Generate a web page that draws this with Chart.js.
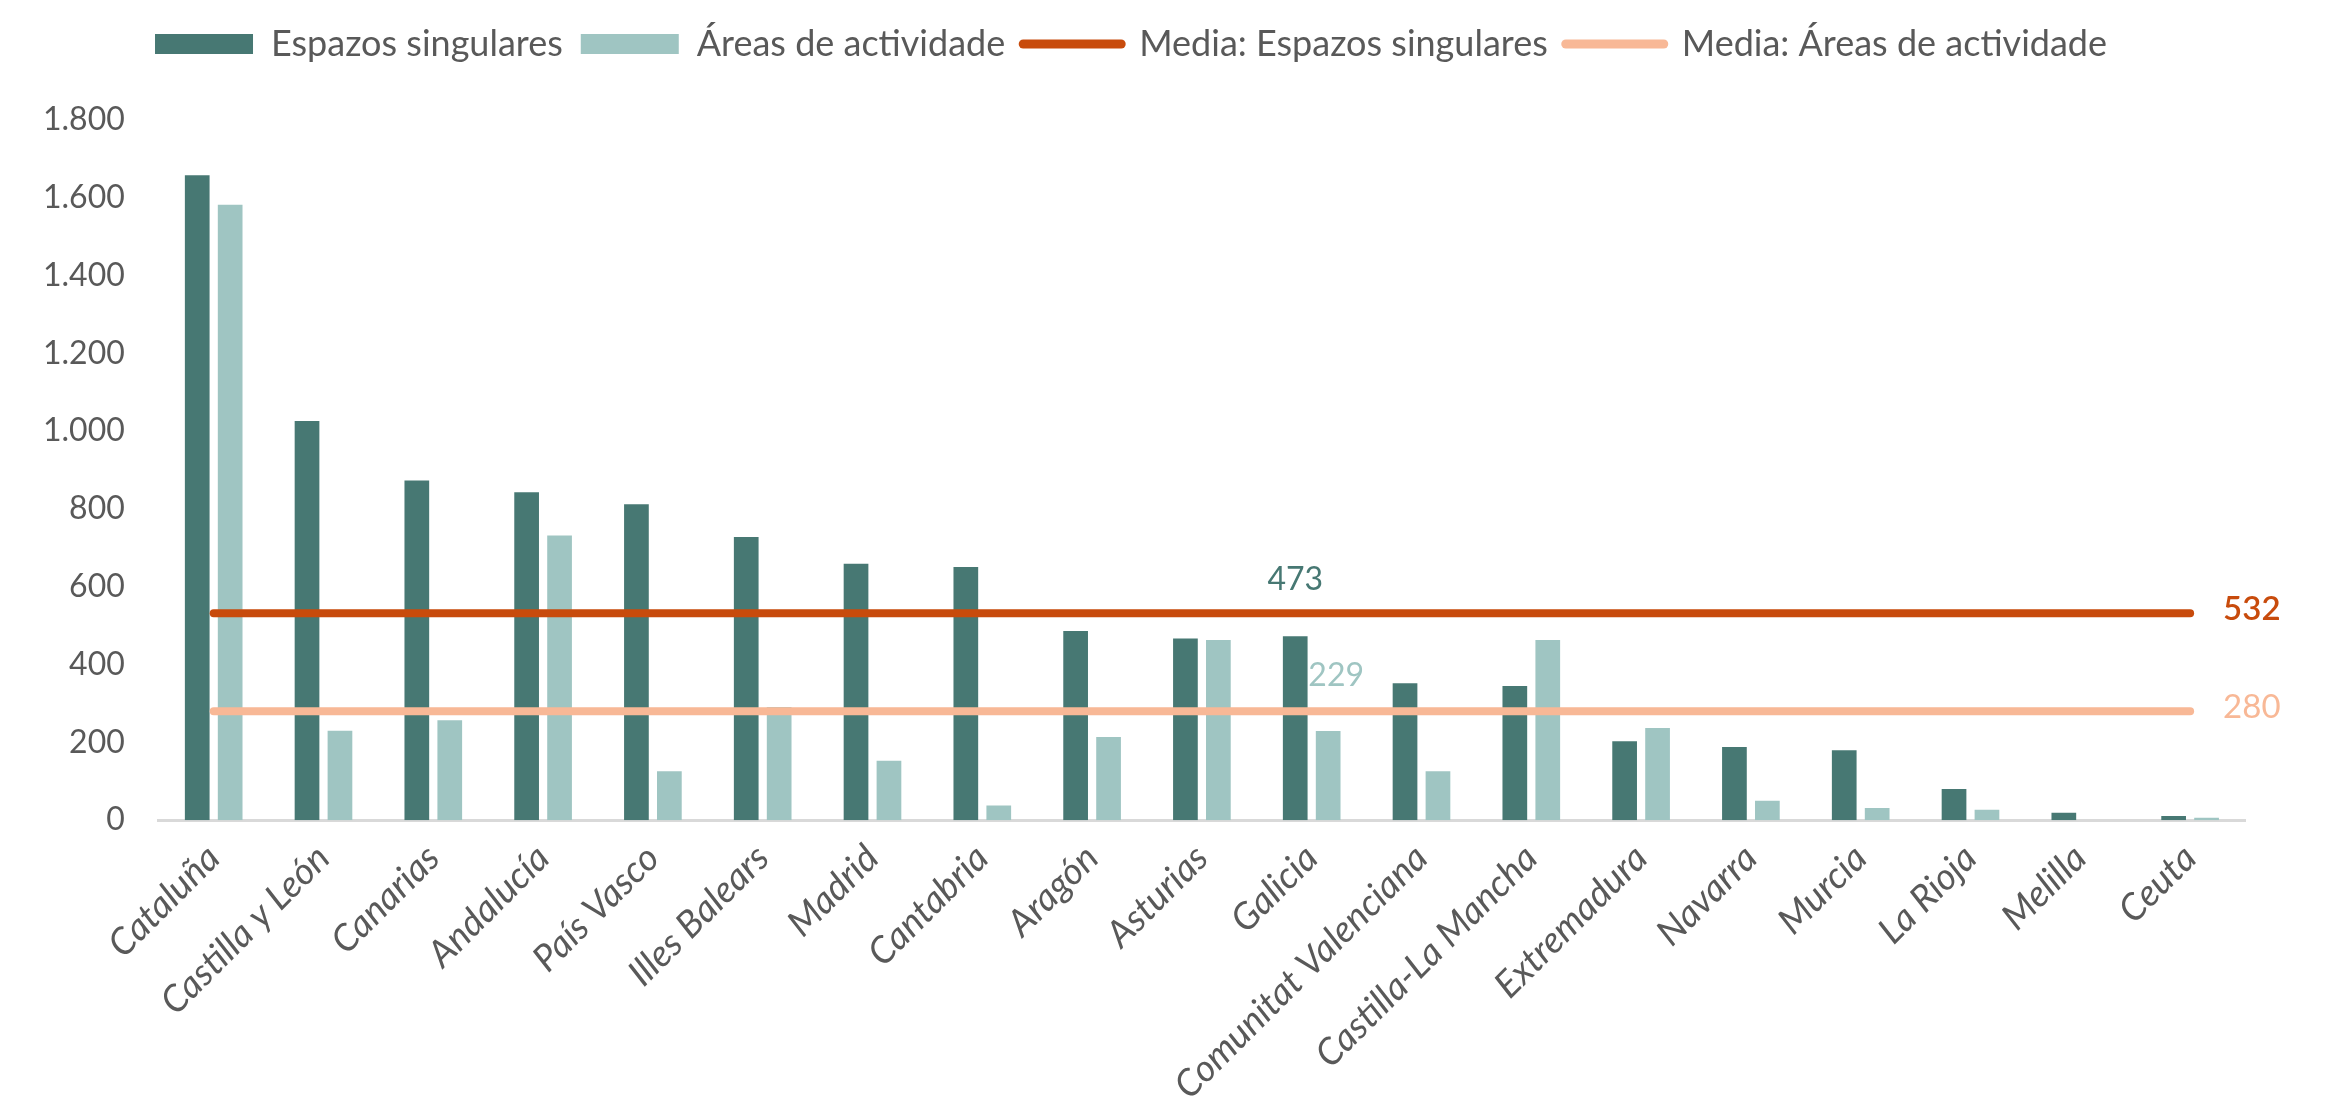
<!DOCTYPE html>
<html>
<head>
<meta charset="utf-8">
<script src="https://cdn.jsdelivr.net/npm/chart.js@4/dist/chart.umd.min.js"></script>
<style>
  html, body { margin: 0; padding: 0; background: #fff; }
  #wrap { width: 2339px; height: 1118px; }
</style>
</head>
<body>
<div id="wrap"><canvas id="grafico"></canvas></div>
<script>
var rexions = ['Cataluña', 'Castilla y León', 'Canarias', 'Andalucía', 'País Vasco', 'Illes Balears',
  'Madrid', 'Cantabria', 'Aragón', 'Asturias', 'Galicia', 'Comunitat Valenciana', 'Castilla-La Mancha',
  'Extremadura', 'Navarra', 'Murcia', 'La Rioja', 'Melilla', 'Ceuta'];
var espazos = [1658, 1026, 873, 843, 812, 728, 659, 651, 486, 467, 473, 352, 345, 203, 188, 180, 80, 19, 11];
var areas = [1582, 230, 257, 732, 126, 291, 153, 38, 214, 463, 229, 126, 463, 237, 50, 31, 27, 0, 6];
var media_espazos = 532;
var media_areas = 280;
var rexion_destacada = 'Galicia';
var y_ticks = [0, 200, 400, 600, 800, 1000, 1200, 1400, 1600, 1800];

var clr_espazos = '#477873';
var clr_areas = '#9fc5c2';
var clr_media_espazos = '#c84b0c';
var clr_media_areas = '#f8b896';
var clr_text = '#595959';
var font_name = 'Lato';

function miles(v) {
  var s = String(v);
  return s.length > 3 ? s.slice(0, s.length - 3) + '.' + s.slice(s.length - 3) : s;
}

// deixa máis aire entre a lenda e a zona do gráfico
var espazo_lenda = {
  id: 'espazo_lenda',
  beforeInit: function(chart) {
    var fit_orig = chart.legend.fit;
    chart.legend.fit = function() {
      fit_orig.bind(chart.legend)();
      this.height += 48;
    };
  }
};

// etiquetas: valores de Galicia sobre as barras e medias ao final das liñas
var etiquetas = {
  id: 'etiquetas',
  afterDatasetsDraw: function(chart) {
    var ctx = chart.ctx;
    var idx = rexions.indexOf(rexion_destacada);
    ctx.save();
    ctx.textAlign = 'center';
    ctx.textBaseline = 'middle';
    ctx.font = '32px ' + font_name;

    var b0 = chart.getDatasetMeta(0).data[idx];
    ctx.fillStyle = clr_espazos;
    ctx.fillText(espazos[idx], b0.x, b0.y - 56);

    var b1 = chart.getDatasetMeta(1).data[idx];
    ctx.fillStyle = clr_areas;
    ctx.fillText(areas[idx], b1.x + 8, b1.y - 55);

    ctx.textAlign = 'left';
    var m0 = chart.getDatasetMeta(2).data;
    var p0 = m0[m0.length - 1];
    ctx.font = '600 33px ' + font_name;
    ctx.fillStyle = clr_media_espazos;
    ctx.fillText(media_espazos, p0.x + 33, p0.y - 4);

    var m1 = chart.getDatasetMeta(3).data;
    var p1 = m1[m1.length - 1];
    ctx.font = '33px ' + font_name;
    ctx.fillStyle = clr_media_areas;
    ctx.fillText(media_areas, p1.x + 33, p1.y - 4);
    ctx.restore();
  }
};

var ctx = document.getElementById('grafico');
new Chart(ctx, {
  type: 'bar',
  data: {
    labels: rexions,
    datasets: [
      {
        label: 'Espazos singulares',
        data: espazos,
        backgroundColor: clr_espazos,
        categoryPercentage: 0.6,
        barPercentage: 0.75,
        order: 2
      },
      {
        label: 'Áreas de actividade',
        data: areas,
        backgroundColor: clr_areas,
        categoryPercentage: 0.6,
        barPercentage: 0.75,
        order: 2
      },
      {
        type: 'line',
        label: 'Media: Espazos singulares',
        data: rexions.map(function() { return media_espazos; }),
        borderColor: clr_media_espazos,
        borderWidth: 8,
        borderCapStyle: 'round',
        pointRadius: 0,
        order: 0
      },
      {
        type: 'line',
        label: 'Media: Áreas de actividade',
        data: rexions.map(function() { return media_areas; }),
        borderColor: clr_media_areas,
        borderWidth: 8,
        borderCapStyle: 'round',
        pointRadius: 0,
        order: 1
      }
    ]
  },
  options: {
    responsive: true,
    maintainAspectRatio: false,
    animation: false,
    layout: {
      padding: { left: 17, right: 94, top: 8, bottom: 2 }
    },
    scales: {
      x: {
        grid: { display: false },
        border: { display: true, color: '#d9d9d9', width: 3 },
        ticks: {
          color: clr_text,
          maxRotation: 45,
          minRotation: 45,
          autoSkip: false,
          padding: 8,
          font: { family: font_name, size: 37, style: 'italic' }
        }
      },
      y: {
        min: 0,
        max: 1800,
        afterBuildTicks: function(axis) {
          axis.ticks = y_ticks.map(function(v) { return { value: v }; });
        },
        grid: { display: false },
        border: { display: false },
        ticks: {
          color: clr_text,
          padding: 26,
          callback: function(value) { return miles(value); },
          font: { family: font_name, size: 32 }
        }
      }
    },
    plugins: {
      tooltip: { enabled: false },
      legend: {
        position: 'top',
        labels: {
          usePointStyle: true,
          pointStyleWidth: 98,
          boxHeight: 20,
          padding: 18,
          color: clr_text,
          font: { family: font_name, size: 36 },
          generateLabels: function(chart) {
            return chart.data.datasets.map(function(ds, i) {
              var is_line = ds.type === 'line';
              return {
                text: ds.label,
                fillStyle: is_line ? ds.borderColor : ds.backgroundColor,
                strokeStyle: is_line ? ds.borderColor : ds.backgroundColor,
                lineWidth: is_line ? 9 : 0,
                lineCap: 'round',
                pointStyle: is_line ? 'line' : 'rect',
                fontColor: clr_text,
                hidden: false,
                datasetIndex: i
              };
            });
          }
        }
      }
    }
  },
  plugins: [espazo_lenda, etiquetas]
});
</script>
</body>
</html>
